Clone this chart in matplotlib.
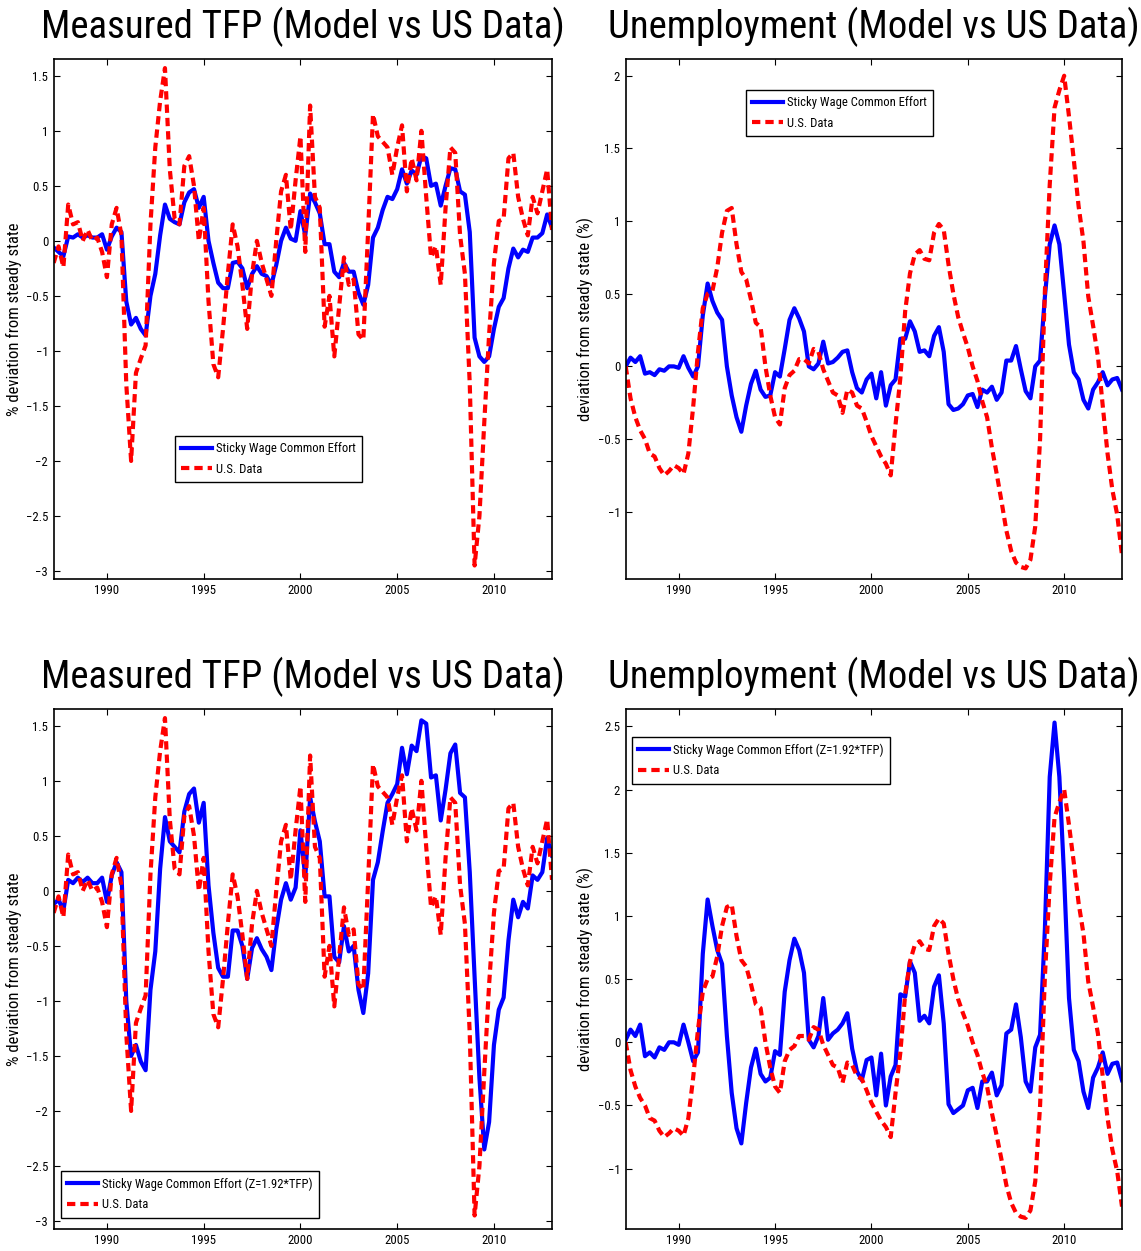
import numpy as np
import matplotlib
matplotlib.use("Agg")
import matplotlib.pyplot as plt
import matplotlib.font_manager as fm
from matplotlib.ticker import FuncFormatter

# quarterly observations, 1987Q2 .. 2013Q1
dates = 1987.25 + 0.25 * np.arange(104)

tfp_data = [
    -0.2, -0.05, -0.24, 0.33, 0.15, 0.17, 0.0, 0.1, 0.0, 0.03,
    -0.1, -0.33, 0.15, 0.3, 0.05, -1.3, -2.0, -1.2, -1.07, -0.95,
    0.15, 0.85, 1.27, 1.57, 0.65, 0.2, 0.15, 0.68, 0.77, 0.5,
    0.0, 0.3, -0.55, -1.12, -1.24, -0.8, -0.3, 0.15, -0.05, -0.4,
    -0.8, -0.3, 0.0, -0.2, -0.35, -0.5, 0.0, 0.45, 0.6, 0.1,
    0.55, 0.95, -0.1, 1.23, 0.4, 0.3, -0.78, -0.5, -1.05, -0.6,
    -0.15, -0.4, -0.35, -0.85, -0.9, 0.1, 1.15, 0.95, 0.9, 0.85,
    0.6, 0.85, 1.05, 0.45, 0.75, 0.55, 1.0, 0.4, -0.15, -0.05,
    -0.4, 0.3, 0.85, 0.8, 0.05, -0.3, -1.3, -2.95, -2.5, -1.65,
    -0.85, -0.2, 0.18, 0.2, 0.75, 0.8, 0.4, 0.2, 0.05, 0.4,
    0.25, 0.45, 0.65, 0.1,
]

tfp_model = [
    -0.06, -0.1, -0.14, 0.04, 0.03, 0.06, 0.03, 0.05, 0.03, 0.03,
    0.06, -0.08, 0.04, 0.12, 0.08, -0.55, -0.76, -0.7, -0.8, -0.86,
    -0.5, -0.3, 0.05, 0.33, 0.2, 0.17, 0.15, 0.35, 0.44, 0.47,
    0.3, 0.4, 0.0, -0.2, -0.38, -0.43, -0.43, -0.2, -0.19, -0.25,
    -0.43, -0.3, -0.23, -0.3, -0.32, -0.4, -0.22, 0.0, 0.12, 0.02,
    0.0, 0.27, 0.05, 0.43, 0.35, 0.25, -0.03, -0.03, -0.28, -0.33,
    -0.2, -0.28, -0.28, -0.47, -0.58, -0.4, 0.03, 0.12, 0.28, 0.4,
    0.38, 0.47, 0.65, 0.52, 0.64, 0.6, 0.77, 0.75, 0.5, 0.52,
    0.32, 0.5, 0.66, 0.65, 0.45, 0.42, 0.08, -0.88, -1.05, -1.1,
    -1.05, -0.8, -0.6, -0.52, -0.25, -0.07, -0.15, -0.08, -0.1, 0.03,
    0.03, 0.07, 0.24, 0.12,
]

tfp_model_z = [
    -0.12, -0.08, -0.18, 0.1, 0.07, 0.12, 0.08, 0.12, 0.07, 0.07,
    0.12, -0.1, 0.14, 0.26, 0.17, -1.0, -1.5, -1.4, -1.55, -1.63,
    -0.9, -0.55, 0.2, 0.67, 0.45, 0.4, 0.35, 0.72, 0.88, 0.93,
    0.62, 0.8, 0.05, -0.38, -0.7, -0.78, -0.78, -0.36, -0.36, -0.5,
    -0.8, -0.52, -0.43, -0.53, -0.6, -0.72, -0.35, -0.08, 0.07, -0.08,
    0.03, 0.55, 0.12, 0.85, 0.63, 0.45, -0.05, -0.05, -0.6, -0.65,
    -0.32, -0.55, -0.5, -0.9, -1.11, -0.75, 0.1, 0.26, 0.54, 0.8,
    0.88, 0.97, 1.3, 1.06, 1.32, 1.27, 1.55, 1.52, 1.03, 1.05,
    0.64, 0.92, 1.25, 1.33, 0.89, 0.85, 0.17, -0.78, -1.7, -2.35,
    -2.1, -1.4, -1.08, -0.97, -0.45, -0.08, -0.24, -0.1, -0.16, 0.14,
    0.1, 0.17, 0.48, 0.32,
]

unemp_data = [
    0.0, -0.22, -0.35, -0.44, -0.5, -0.6, -0.62, -0.7, -0.75, -0.72,
    -0.68, -0.7, -0.74, -0.6, -0.28, 0.1, 0.4, 0.5, 0.52, 0.68,
    0.92, 1.07, 1.09, 0.84, 0.65, 0.6, 0.46, 0.3, 0.27, 0.0,
    -0.2, -0.35, -0.4, -0.15, -0.06, -0.03, 0.05, 0.05, 0.02, 0.12,
    0.1, -0.02, -0.1, -0.18, -0.2, -0.32, -0.16, -0.18, -0.27, -0.29,
    -0.38, -0.48, -0.55, -0.62, -0.67, -0.75, -0.4, -0.08, 0.38, 0.64,
    0.77, 0.8, 0.74, 0.73, 0.92, 0.98, 0.94, 0.7, 0.5, 0.34,
    0.23, 0.13, 0.0, -0.1, -0.24, -0.35, -0.56, -0.74, -0.93, -1.13,
    -1.27, -1.35, -1.38, -1.39, -1.33, -1.1, -0.5, 0.52, 1.25, 1.78,
    1.9, 2.0, 1.72, 1.42, 1.1, 0.86, 0.48, 0.28, 0.07, -0.27,
    -0.6, -0.85, -1.02, -1.3,
]

unemp_model = [
    0.0, 0.06, 0.03, 0.07, -0.05, -0.04, -0.06, -0.02, -0.03, 0.0,
    0.0, -0.01, 0.07, -0.01, -0.07, 0.0, 0.35, 0.57, 0.45, 0.37,
    0.32, 0.0, -0.2, -0.35, -0.45, -0.27, -0.12, -0.03, -0.16, -0.21,
    -0.2, -0.04, -0.07, 0.12, 0.32, 0.4, 0.33, 0.24, 0.0, -0.02,
    0.02, 0.17, 0.02, 0.03, 0.06, 0.1, 0.11, -0.04, -0.15, -0.18,
    -0.09, -0.05, -0.22, -0.04, -0.27, -0.13, -0.09, 0.19, 0.19, 0.31,
    0.24, 0.1, 0.11, 0.07, 0.21, 0.27, 0.1, -0.26, -0.3, -0.29,
    -0.26, -0.2, -0.19, -0.28, -0.16, -0.18, -0.14, -0.23, -0.18, 0.04,
    0.04, 0.14, -0.02, -0.17, -0.22, 0.0, 0.04, 0.48, 0.84, 0.97,
    0.84, 0.5, 0.15, -0.04, -0.09, -0.23, -0.29, -0.16, -0.11, -0.04,
    -0.13, -0.09, -0.08, -0.16,
]

unemp_model_z = [
    0.02, 0.1, 0.05, 0.14, -0.11, -0.08, -0.12, -0.04, -0.06, 0.0,
    0.0, -0.02, 0.14, 0.0, -0.15, -0.08, 0.7, 1.13, 0.92, 0.73,
    0.62, 0.05, -0.4, -0.68, -0.8, -0.48, -0.2, -0.05, -0.25, -0.31,
    -0.28, -0.07, -0.1, 0.4, 0.65, 0.82, 0.73, 0.55, 0.02, -0.04,
    0.05, 0.35, 0.02, 0.07, 0.1, 0.15, 0.23, -0.05, -0.23, -0.3,
    -0.14, -0.12, -0.42, -0.09, -0.5, -0.27, -0.18, 0.38, 0.36, 0.64,
    0.55, 0.17, 0.21, 0.15, 0.44, 0.53, 0.15, -0.49, -0.56, -0.53,
    -0.5, -0.38, -0.36, -0.52, -0.31, -0.31, -0.24, -0.42, -0.34, 0.07,
    0.1, 0.3, 0.04, -0.31, -0.39, -0.04, 0.06, 0.9, 2.1, 2.53,
    2.1, 1.3, 0.35, -0.06, -0.15, -0.39, -0.52, -0.28, -0.2, -0.08,
    -0.25, -0.17, -0.16, -0.3,
]

year_ticks = [1990, 1995, 2000, 2005, 2010]

# the original uses a narrow Helvetica; take a narrow face if one exists
installed = fm.fontManager.ttflist
narrow = None
for cand in ['Liberation Sans Narrow', 'Arial Narrow', 'Nimbus Sans Narrow',
             'Roboto Condensed', 'Open Sans Condensed']:
    if any(f.name == cand for f in installed):
        narrow = cand
        break
stretch = 'normal'
if narrow is None:
    if any(f.name == 'DejaVu Sans' and str(f.stretch) == 'condensed'
           for f in installed):
        narrow, stretch = 'DejaVu Sans', 'condensed'
    else:
        narrow = 'Liberation Sans'
plt.rcParams['font.family'] = [narrow, 'DejaVu Sans']
plt.rcParams['font.stretch'] = stretch

W, H = 1141, 1251
fig = plt.figure(figsize=(W / 100, H / 100), dpi=100)
renderer = fig.canvas.get_renderer()


def fit(text, px, size0=10.0):
    # font size that makes `text` about `px` pixels wide
    t = fig.text(0, 0, text, fontsize=size0)
    w = t.get_window_extent(renderer).width
    t.remove()
    return size0 * px / w


title_size = fit('Measured TFP (Model vs US Data)', 523)
ylabel_size = min(fit('% deviation from steady state', 196), 12)
legend_size = min(fit('Sticky Wage Common Effort', 139), 11)
tick_size = min(max(fit('1990', 25), 8.5), 10)


def rect(x0, y0, x1, y1):
    # pixel box -> figure fraction
    return [x0 / W, 1 - y1 / H, (x1 - x0) / W, (y1 - y0) / H]


def fmt(v, pos):
    return ('%g' % round(v, 2)).replace('-', '\u2212')


panels = [
    dict(box=(53.7, 59.3, 552, 578.7), model=tfp_model, data=tfp_data,
         title='Measured TFP (Model vs US Data)',
         ylabel='% deviation from steady state',
         ylim=(-3.07, 1.65), yticks=np.arange(-3, 1.51, 0.5),
         label='Sticky Wage Common Effort', leg=(175, 436)),
    dict(box=(625.7, 59.3, 1122, 578.7), model=unemp_model, data=unemp_data,
         title='Unemployment (Model vs US Data)',
         ylabel='deviation from steady state (%)',
         ylim=(-1.461, 2.113), yticks=np.arange(-1, 2.01, 0.5),
         label='Sticky Wage Common Effort', leg=(746, 90)),
    dict(box=(53.7, 709.3, 552, 1228.7), model=tfp_model_z, data=tfp_data,
         title='Measured TFP (Model vs US Data)',
         ylabel='% deviation from steady state',
         ylim=(-3.07, 1.65), yticks=np.arange(-3, 1.51, 0.5),
         label='Sticky Wage Common Effort (Z=1.92*TFP)', leg=(61, 1171)),
    dict(box=(625.7, 709.3, 1122, 1228.7), model=unemp_model_z, data=unemp_data,
         title='Unemployment (Model vs US Data)',
         ylabel='deviation from steady state (%)',
         ylim=(-1.475, 2.635), yticks=np.arange(-1, 2.51, 0.5),
         label='Sticky Wage Common Effort (Z=1.92*TFP)', leg=(632, 737)),
]

for p in panels:
    ax = fig.add_axes(rect(*p['box']))
    ax.plot(dates, p['model'], color='#0000ff', lw=3, label=p['label'])
    ax.plot(dates, p['data'], color='#ff0000', lw=3, ls=(0, (2, 1.2)),
            label='U.S. Data')
    ax.set_xlim(dates[0], dates[-1])
    ax.set_ylim(*p['ylim'])
    ax.set_xticks(year_ticks)
    ax.set_yticks(p['yticks'])
    ax.yaxis.set_major_formatter(FuncFormatter(fmt))
    ax.tick_params(direction='in', top=True, right=True, length=4,
                   width=0.8, labelsize=tick_size, pad=4)
    for s in ax.spines.values():
        s.set_linewidth(1.2)
    ax.set_title(p['title'], fontsize=title_size, pad=15)
    ax.set_ylabel(p['ylabel'], fontsize=ylabel_size)
    ax.yaxis.set_label_coords(-0.063, 0.5)
    lx, ly = p['leg']
    leg = ax.legend(loc='upper left', bbox_to_anchor=(lx / W, 1 - ly / H),
                    bbox_transform=fig.transFigure, fontsize=legend_size,
                    handlelength=2.45, handletextpad=0.3, borderpad=0.5,
                    labelspacing=0.6, borderaxespad=0, fancybox=False,
                    framealpha=1)
    leg.get_frame().set_edgecolor('black')
    leg.get_frame().set_linewidth(1.0)

fig.savefig('out.png', dpi=100)
